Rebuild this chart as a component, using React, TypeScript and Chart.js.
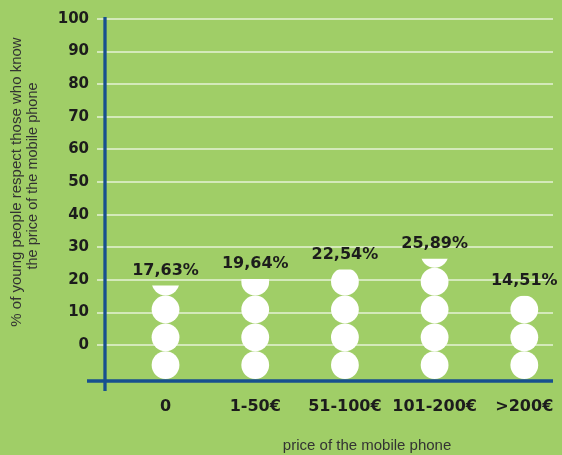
import React, { useEffect, useRef } from 'react';
import { Chart, registerables } from 'chart.js';

Chart.register(...registerables);

// ---- data ----
const categories = ['0', '1-50€', '51-100€', '101-200€', '>200€'];
const values = [17.63, 19.64, 22.54, 25.89, 14.51];
const valueLabels = ['17,63%', '19,64%', '22,54%', '25,89%', '14,51%'];
const yTicks = [0, 10, 20, 30, 40, 50, 60, 70, 80, 90, 100];
const yTitle = ['% of young people respect those who know', 'the price of the mobile phone'];
const xTitle = 'price of the mobile phone';

// ---- style constants ----
const Y_MIN = -11;
const Y_MAX = 100.6;
const X_MIN = -0.675;
const X_MAX = 4.32;
const BG = '#a0ce67';
const BLUE = '#17508f';
const INK = '#1c1c1c';
const GREY = '#333333';
const W = 562;
const H = 455;

const circlesPlugin = {
  id: 'circles',
  afterDatasetsDraw(chart: any) {
    const ctx = chart.ctx;
    const meta = chart.getDatasetMeta(0);
    const yScale = chart.scales.y;
    const base = yScale.getPixelForValue(Y_MIN);
    const r = 13.9;
    meta.data.forEach((el: any, i: number) => {
      const { x, y } = el.getProps(['x', 'y'], true);
      const top = y - 2;
      ctx.save();
      ctx.beginPath();
      ctx.rect(x - r - 2, top, 2 * r + 4, base - top);
      ctx.clip();
      ctx.fillStyle = '#ffffff';
      for (let cy = base - 2 - r; cy + r > top; cy -= 2 * r) {
        ctx.beginPath();
        ctx.arc(x, cy, r, 0, Math.PI * 2);
        ctx.fill();
      }
      ctx.restore();
      ctx.save();
      ctx.font = 'bold 16px "DejaVu Sans"';
      ctx.fillStyle = INK;
      ctx.textAlign = 'center';
      ctx.textBaseline = 'middle';
      ctx.fillText(valueLabels[i], x, y - 17);
      ctx.restore();
    });
  },
};

const axesPlugin = {
  id: 'axesAndTitles',
  afterDatasetsDraw(chart: any) {
    const { ctx, chartArea } = chart;
    const yb = chart.scales.y.getPixelForValue(Y_MIN);
    ctx.save();
    ctx.strokeStyle = BLUE;
    ctx.lineWidth = 3.3;
    ctx.beginPath();
    ctx.moveTo(chartArea.left - 18, yb);
    ctx.lineTo(chartArea.right, yb);
    ctx.moveTo(chartArea.left, chartArea.top);
    ctx.lineTo(chartArea.left, yb + 10);
    ctx.stroke();

    // x title
    ctx.fillStyle = GREY;
    ctx.font = '15px "Liberation Sans"';
    ctx.textAlign = 'center';
    ctx.textBaseline = 'middle';
    ctx.fillText(xTitle, chartArea.left + (chartArea.right - chartArea.left) * 0.585, H - 9);

    // y title (two rotated lines)
    const cy = (chartArea.top + yb) / 2 - 20;
    ctx.textBaseline = 'alphabetic';
    [21, 37].forEach((bx, k) => {
      ctx.save();
      ctx.translate(bx, cy + (k === 0 ? 3 : -3));
      ctx.rotate(-Math.PI / 2);
      ctx.font = k === 0 ? '15px "Liberation Sans"' : '14.5px "Liberation Sans"';
      ctx.fillText(yTitle[k], 0, 0);
      ctx.restore();
    });
    ctx.restore();
  },
};

export default function App() {
  const ref = useRef<HTMLCanvasElement | null>(null);

  useEffect(() => {
    if (!ref.current) return;
    const chart = new Chart(ref.current, {
      type: 'bar',
      data: {
        datasets: [
          {
            data: values.map((v, i) => ({ x: i, y: v })),
            backgroundColor: 'rgba(0,0,0,0)',
            borderWidth: 0,
            base: Y_MIN,
          } as any,
        ],
      },
      options: {
        animation: false,
        responsive: false,
        maintainAspectRatio: false,
        layout: { padding: { left: 0, top: 13, right: 9, bottom: 0 } },
        plugins: { legend: { display: false }, tooltip: { enabled: false } },
        scales: {
          x: {
            type: 'linear',
            offset: false,
            min: X_MIN,
            max: X_MAX,
            afterBuildTicks: (s: any) => {
              s.ticks = [X_MIN, ...categories.map((_, i) => i), X_MAX].map((v) => ({ value: v }));
            },
            afterFit: (s: any) => {
              s.height = 74;
              s.paddingLeft = 0;
              s.paddingRight = 0;
            },
            ticks: {
              autoSkip: false,
              maxRotation: 0,
              minRotation: 0,
              padding: 16,
              color: INK,
              font: { family: 'DejaVu Sans', size: 16, weight: 'bold' },
              callback: (v: any) =>
                Number.isInteger(v) && categories[v] !== undefined ? categories[v] : '',
            },
            grid: { display: false, drawTicks: false },
            border: { display: false },
          },
          y: {
            min: Y_MIN,
            max: Y_MAX,
            afterBuildTicks: (s: any) => {
              s.ticks = yTicks.map((v) => ({ value: v }));
            },
            afterFit: (s: any) => {
              s.width = 105;
            },
            ticks: {
              padding: 8,
              color: INK,
              font: { family: 'DejaVu Sans', size: 15, weight: 'bold' },
            },
            grid: {
              color: 'rgba(255,255,255,0.55)',
              lineWidth: 2,
              tickLength: 8,
              drawTicks: true,
            },
            border: { display: false },
          },
        },
      } as any,
      plugins: [circlesPlugin, axesPlugin],
    });
    return () => chart.destroy();
  }, []);

  return (
    <div
      style={{
        position: 'fixed',
        left: 0,
        top: 0,
        width: W,
        height: H,
        background: BG,
      }}
    >
      <canvas ref={ref} width={W} height={H} style={{ display: 'block' }} />
    </div>
  );
}
